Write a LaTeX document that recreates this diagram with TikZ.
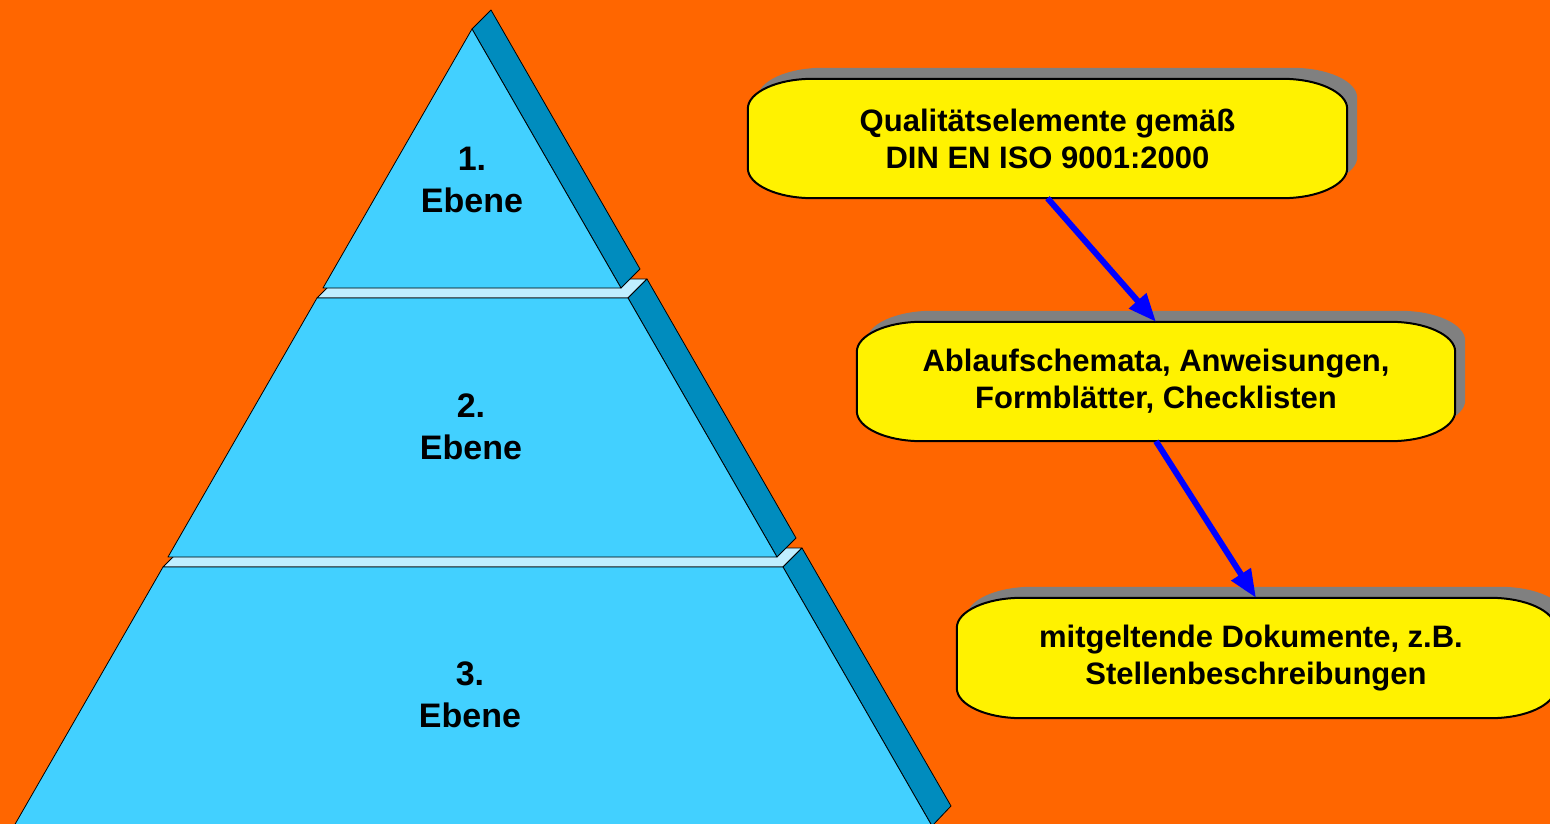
\documentclass[tikz,border=0pt]{standalone}
\usepackage{fontspec}
\setmainfont{Liberation Sans}
\usetikzlibrary{arrows.meta}
\definecolor{bgorange}{RGB}{255,102,0}
\definecolor{frontc}{RGB}{66,208,255}
\definecolor{sidec}{RGB}{0,140,190}
\definecolor{ledgec}{RGB}{192,238,255}
\definecolor{shadowc}{RGB}{128,128,128}
\pgfdeclarelayer{bg}
\pgfsetlayers{bg,main}
\newcommand\bubpath[3]{%
 ([shift={(#2,#3-30pt)}]#1.north west) .. controls ([shift={(#2,#3-13.5pt)}]#1.north west) and ([shift={(#2+29pt,#3)}]#1.north west) .. ([shift={(#2+65pt,#3)}]#1.north west)
 -- ([shift={(#2-65pt,#3)}]#1.north east) .. controls ([shift={(#2-29pt,#3)}]#1.north east) and ([shift={(#2,#3-13.5pt)}]#1.north east) .. ([shift={(#2,#3-30pt)}]#1.north east)
 -- ([shift={(#2,#3+30pt)}]#1.south east) .. controls ([shift={(#2,#3+13.5pt)}]#1.south east) and ([shift={(#2-29pt,#3)}]#1.south east) .. ([shift={(#2-65pt,#3)}]#1.south east)
 -- ([shift={(#2+65pt,#3)}]#1.south west) .. controls ([shift={(#2+29pt,#3)}]#1.south west) and ([shift={(#2,#3+13.5pt)}]#1.south west) .. ([shift={(#2,#3+30pt)}]#1.south west) -- cycle}
\tikzset{
  front/.style={fill=frontc, draw=black, line width=0.8pt, line join=round},
  side/.style={fill=sidec, draw=black, line width=0.8pt, line join=round},
  ledge/.style={fill=ledgec, draw=black, line width=0.8pt, line join=round},
  leveltext/.style={align=center, font=\bfseries\fontsize{34}{42}\selectfont},
  bubtext/.style={align=center, inner sep=0pt, font=\bfseries\fontsize{31}{37}\selectfont},
  bubshadow/.style={fill=shadowc},
  bubbox/.style={fill=yellow, draw=black, line width=2pt},
  flow/.style={draw=blue, line width=6pt, -{Triangle[length=28pt,width=22pt]}}
}
\begin{document}
\begin{tikzpicture}[x=1pt,y=-1pt]
\useasboundingbox (0,0) rectangle (1550,824);
\clip (0,0) rectangle (1550,824);
\begin{pgfonlayer}{bg}
\fill[bgorange] (0,0) rectangle (1550,824);
% level 3
\path[ledge] (163,567) -- (182,548) -- (802,548) -- (783,567) -- cycle;
\path[side] (783,567) -- (802,548) -- (951,806) -- (932,826) -- cycle;
\path[front] (163,567) -- (783,567) -- (932,826) -- (14,826) -- cycle;
% level 2
\path[ledge] (317,298) -- (336,279) -- (647,279) -- (628,298) -- cycle;
\path[side] (628,298) -- (647,279) -- (796,538) -- (777,557) -- cycle;
\path[front] (317,298) -- (628,298) -- (777,557) -- (168,557) -- cycle;
% level 1
\path[side] (472,29) -- (491,10) -- (640,269) -- (621,288) -- cycle;
\path[front] (472,29) -- (621,288) -- (323,288) -- cycle;
\end{pgfonlayer}
\node[leveltext] (t1) at (472,180) {1.\\Ebene};
\node[leveltext] (t2) at (471,427) {2.\\Ebene};
\node[leveltext] (t3) at (470,695) {3.\\Ebene};
\node[bubtext, minimum width=599pt, minimum height=119pt] (b1) at (1047.5,138.5) {Qualitätselemente gemäß\\DIN EN ISO 9001:2000};
\node[bubtext, minimum width=598pt, minimum height=119pt] (b2) at (1156,381.5) {Ablaufschemata, Anweisungen,\\Formblätter, Checklisten};
\node[bubtext, minimum width=598pt, minimum height=120pt] (b3) at (1256,658) {mitgeltende Dokumente, z.B.\hspace*{10pt}\\Stellenbeschreibungen};
\begin{pgfonlayer}{bg}
\foreach \b in {b1,b2,b3}{
  \path[bubshadow] \bubpath{\b}{10pt}{11pt};
  \path[bubbox] \bubpath{\b}{0pt}{0pt};
}
\end{pgfonlayer}
\draw[flow] (b1.south) -- (b2.north);
\draw[flow] (b2.south) -- (b3.north);
\end{tikzpicture}
\end{document}
